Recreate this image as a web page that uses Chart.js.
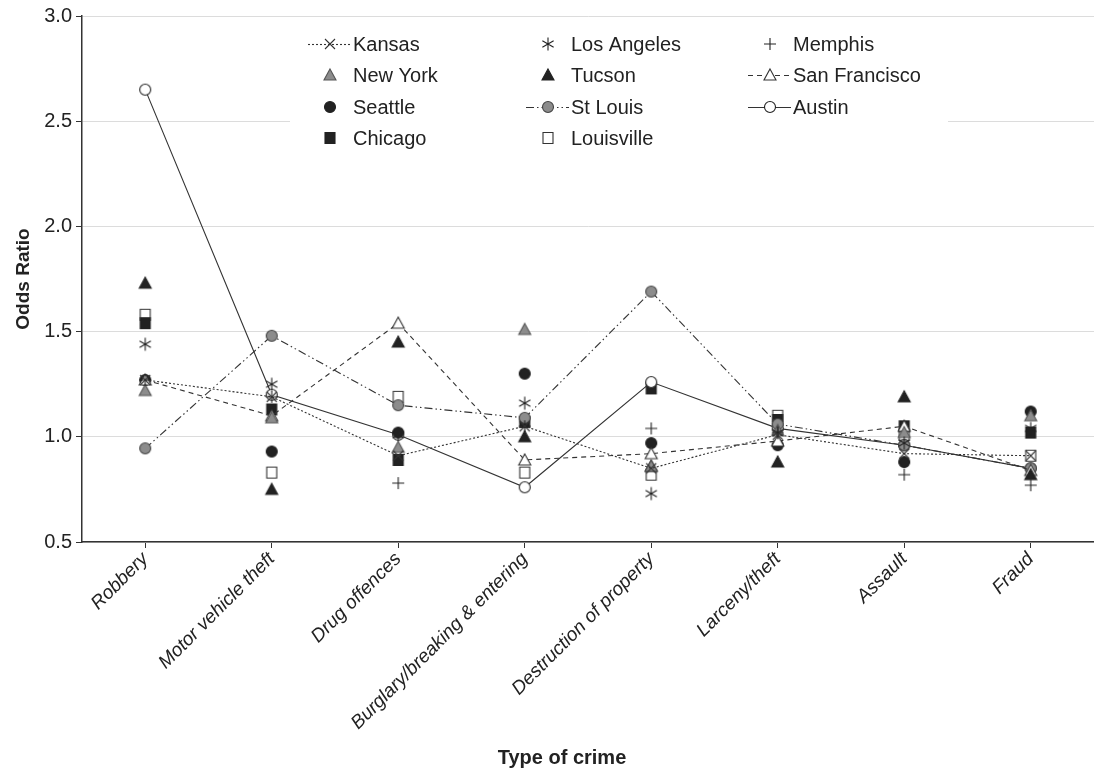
<!DOCTYPE html>
<html>
<head>
<meta charset="utf-8">
<script src="https://cdn.jsdelivr.net/npm/chart.js@4/dist/chart.umd.min.js"></script>
<style>
  html, body { margin: 0; padding: 0; background: #fff; }
  #wrap { width: 1094px; height: 775px; position: relative; }
</style>
</head>
<body>
<div id="wrap"><canvas id="oddsChart"></canvas></div>
<script>
// categories and values
const crimes = ['Robbery', 'Motor vehicle theft', 'Drug offences', 'Burglary/breaking & entering',
    'Destruction of property', 'Larceny/theft', 'Assault', 'Fraud'];
const yTicks = [0.5, 1.0, 1.5, 2.0, 2.5, 3.0];

const kansas       = [1.27, 1.19, 0.91, 1.05, 0.85, 1.01, 0.92, 0.91];
const losAngeles   = [1.44, 1.25, 1.01, 1.16, 0.73, 1.02, 0.97, 1.04];
const memphis      = [1.27, 1.19, 0.78, 1.05, 1.04, 1.02, 0.82, 0.77];
const newYork      = [1.22, 1.09, 0.95, 1.51, 0.86, 1.03, 1.02, 1.10];
const tucson       = [1.73, 0.75, 1.45, 1.00, 0.86, 0.88, 1.19, 0.82];
const sanFrancisco = [1.27, 1.10, 1.54, 0.89, 0.92, 0.98, 1.05, 0.84];
const seattle      = [1.27, 0.93, 1.02, 1.30, 0.97, 0.96, 0.88, 1.12];
const stLouis      = [0.945, 1.48, 1.15, 1.09, 1.69, 1.06, 0.96, 0.85];
const austin       = [2.65, 1.20, 1.01, 0.76, 1.26, 1.04, 0.96, 0.85];
const chicago      = [1.54, 1.13, 0.89, 1.07, 1.23, 1.08, 1.05, 1.02];
const louisville   = [1.58, 0.83, 1.19, 0.83, 0.82, 1.10, 1.01, 0.91];

const FONT = '"Liberation Sans", Arial, sans-serif';
const INK = '#222';

// small canvases used as point styles (and reused in the legend)
function marker(kind, fill, stroke) {
    const c = document.createElement('canvas');
    c.width = 18; c.height = 18;
    const g = c.getContext('2d');
    g.translate(9, 9);
    g.lineWidth = 1.1;
    g.strokeStyle = stroke;
    g.fillStyle = fill || '#fff';
    g.beginPath();
    if (kind === 'circle') {
        g.arc(0, 0, 5.5, 0, Math.PI * 2);
    } else if (kind === 'rect') {
        g.rect(-5, -5.5, 10, 11);
    } else if (kind === 'tri') {
        g.moveTo(0, -6); g.lineTo(6, 5); g.lineTo(-6, 5); g.closePath();
    } else if (kind === 'x') {
        g.moveTo(-5, -5); g.lineTo(5, 5); g.moveTo(5, -5); g.lineTo(-5, 5);
    } else if (kind === 'plus') {
        g.moveTo(-6, 0); g.lineTo(6, 0); g.moveTo(0, -6); g.lineTo(0, 6);
    } else if (kind === 'ast') {
        [90, 30, 150].forEach(a => {
            const r = a * Math.PI / 180;
            g.moveTo(Math.cos(r) * 6.5, -Math.sin(r) * 6.5);
            g.lineTo(-Math.cos(r) * 6.5, Math.sin(r) * 6.5);
        });
    }
    if (fill) g.fill();
    g.stroke();
    return c;
}

const series = (label, data, style, dash) => ({
    label: label,
    data: data,
    pointStyle: style,
    pointRadius: 6,
    borderColor: '#333',
    backgroundColor: '#333',
    borderWidth: 1.1,
    borderDash: dash || [],
    showLine: dash !== undefined,
    fill: false,
    tension: 0
});

const datasets = [
    series('Kansas', kansas, marker('x', null, '#333'), [2, 2]),
    series('Los Angeles', losAngeles, marker('ast', null, '#222')),
    series('Memphis', memphis, marker('plus', null, '#222')),
    series('New York', newYork, marker('tri', '#8c8c8c', '#555')),
    series('Tucson', tucson, marker('tri', '#222', '#222')),
    series('San Francisco', sanFrancisco, marker('tri', '#fff', '#333'), [5, 4]),
    series('Seattle', seattle, marker('circle', '#222', '#222')),
    series('St Louis', stLouis, marker('circle', '#8c8c8c', '#444'), [8, 3, 1.5, 3, 1.5, 3]),
    series('Austin', austin, marker('circle', '#fff', '#222'), []),
    series('Chicago', chicago, marker('rect', '#222', '#222')),
    series('Louisville', louisville, marker('rect', '#fff', '#333'))
];

// white legend box that hides the gridline behind it, legend and x title
const legendBox = {
    id: 'legendBox',
    beforeDatasetsDraw(chart) {
        const ctx = chart.ctx;
        ctx.save();
        ctx.fillStyle = '#fff';
        ctx.fillRect(290, 22, 658, 134);
        ctx.restore();
    },
    afterDraw(chart) {
        const ctx = chart.ctx;
        const cols = [330, 548, 770];
        const rows = [44, 75, 107, 138];
        ctx.save();
        ctx.font = '20px ' + FONT;
        ctx.textBaseline = 'middle';
        ctx.fillStyle = INK;
        chart.data.datasets.forEach((ds, i) => {
            const x = cols[i % 3];
            const y = rows[Math.floor(i / 3)];
            if (ds.showLine) {
                ctx.save();
                ctx.strokeStyle = ds.borderColor;
                ctx.lineWidth = ds.borderWidth;
                ctx.setLineDash(ds.borderDash);
                ctx.beginPath();
                ctx.moveTo(x - 22, y + 0.5);
                ctx.lineTo(x + 21, y + 0.5);
                ctx.stroke();
                ctx.restore();
            }
            ctx.drawImage(ds.pointStyle, x - 9, y - 9);
            ctx.fillText(ds.label, x + 23, y + 1);
        });
        ctx.font = 'bold 20px ' + FONT;
        ctx.textAlign = 'center';
        ctx.fillText('Type of crime', 562, 758);
        ctx.restore();
    }
};

new Chart(document.querySelector('#oddsChart'), {
    type: 'line',
    data: { labels: crimes, datasets: datasets },
    options: {
        responsive: true,
        maintainAspectRatio: false,
        animation: false,
        layout: { autoPadding: false, padding: { top: 16, right: 0, left: 0, bottom: 0 } },
        plugins: { legend: { display: false }, tooltip: { enabled: false } },
        scales: {
            x: {
                offset: true,
                afterFit: (scale) => { scale.height = 233; scale.paddingRight = 0; },
                grid: { drawOnChartArea: false, offset: false, tickLength: 6, tickColor: '#333' },
                border: { color: '#333', width: 1.5 },
                ticks: {
                    color: INK,
                    font: { family: FONT, size: 19, style: 'italic' },
                    minRotation: 45,
                    maxRotation: 45,
                    padding: 0
                }
            },
            y: {
                min: 0.5,
                max: 3.0,
                afterFit: (scale) => { scale.width = 82; },
                afterBuildTicks: (scale) => { scale.ticks = yTicks.map(v => ({ value: v })); },
                grid: { color: '#dcdcdc', lineWidth: 1, tickLength: 6, tickColor: '#333' },
                border: { color: '#333', width: 1.5 },
                ticks: {
                    color: INK,
                    font: { family: FONT, size: 20 },
                    padding: 4,
                    callback: (v) => Number(v).toFixed(1)
                },
                title: {
                    display: true,
                    text: 'Odds Ratio',
                    color: INK,
                    font: { family: FONT, size: 19, weight: 'bold' },
                    padding: { top: 12, bottom: 0 }
                }
            }
        }
    },
    plugins: [legendBox]
});
</script>
</body>
</html>
